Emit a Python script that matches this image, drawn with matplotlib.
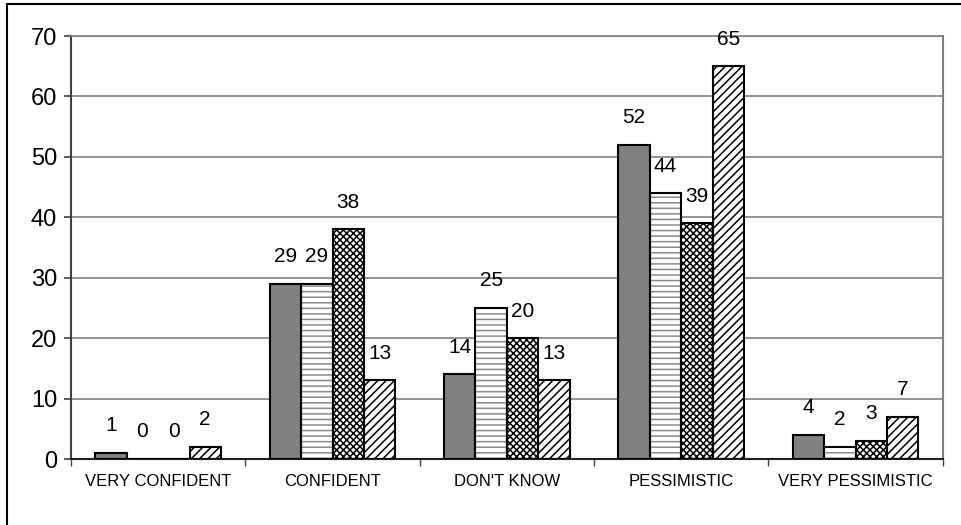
import numpy as np
import matplotlib.pyplot as plt
from matplotlib.patches import Rectangle

plt.rcParams['font.family'] = ['Liberation Sans', 'DejaVu Sans']
plt.rcParams['hatch.linewidth'] = 1.1

categories = ['VERY CONFIDENT', 'CONFIDENT', "DON'T KNOW", 'PESSIMISTIC', 'VERY PESSIMISTIC']
series_a = [1, 29, 14, 52, 4]
series_b = [0, 29, 25, 44, 2]
series_c = [0, 38, 20, 39, 3]
series_d = [2, 13, 13, 65, 7]
y_ticks = [0, 10, 20, 30, 40, 50, 60, 70]

fig = plt.figure(figsize=(9.62, 5.25), dpi=100)
ax = fig.add_axes([0.0738, 0.1257, 0.9062, 0.8057])

# outer frame around the whole chart
fig.patches.append(Rectangle((0.0073, -0.05), 1.05, 0.9974 + 0.05 - 0.0048,
                             transform=fig.transFigure, fill=False,
                             edgecolor='black', linewidth=1.5))

x = np.arange(len(categories))
w = 0.18
styles = [
    dict(color='#808080', hatch=None, hcolor=None),
    dict(color='white', hatch='---', hcolor='#8a8a8a'),
    dict(color='white', hatch='xxxxx', hcolor='black'),
    dict(color='white', hatch='////', hcolor='black'),
]
series = [series_a, series_b, series_c, series_d]

ax.set_axisbelow(True)
for k, (vals, st) in enumerate(zip(series, styles)):
    pos = x + (k - 1.5) * w
    if st['hatch']:
        ax.bar(pos, vals, w, color=st['color'], hatch=st['hatch'],
               edgecolor=st['hcolor'], linewidth=0, zorder=2)
        ax.bar(pos, vals, w, fill=False, edgecolor='black', linewidth=1.5, zorder=3)
    else:
        ax.bar(pos, vals, w, color=st['color'], edgecolor='black',
               linewidth=1.5, zorder=3)
    for px, v in zip(pos, vals):
        ax.annotate(str(v), (px, v), xytext=(0, 19.5), textcoords='offset points',
                    ha='center', va='center', fontsize=15)

ax.set_ylim(0, 70)
ax.set_xlim(-0.5, len(categories) - 0.5)
ax.set_yticks(y_ticks)
ax.tick_params(axis='y', labelsize=17, direction='out', length=5, width=1.2,
               color='#404040', pad=5)
ax.yaxis.grid(True, color='#808080', linewidth=1.2)

ax.set_xticks(x)
ax.set_xticklabels(categories, fontsize=12)
ax.tick_params(axis='x', which='major', length=0, pad=11)
ax.set_xticks(np.arange(-0.5, len(categories), 1), minor=True)
ax.tick_params(axis='x', which='minor', direction='out', length=5, width=1, color='#404040')

ax.spines['left'].set_color('#404040')
ax.spines['left'].set_linewidth(1.5)
ax.spines['bottom'].set_color('#202020')
ax.spines['bottom'].set_linewidth(1.5)
ax.spines['right'].set_color('#808080')
ax.spines['right'].set_linewidth(1.5)
ax.spines['top'].set_color('#808080')
ax.spines['top'].set_linewidth(1.2)

fig.savefig('out.png', dpi=100)
